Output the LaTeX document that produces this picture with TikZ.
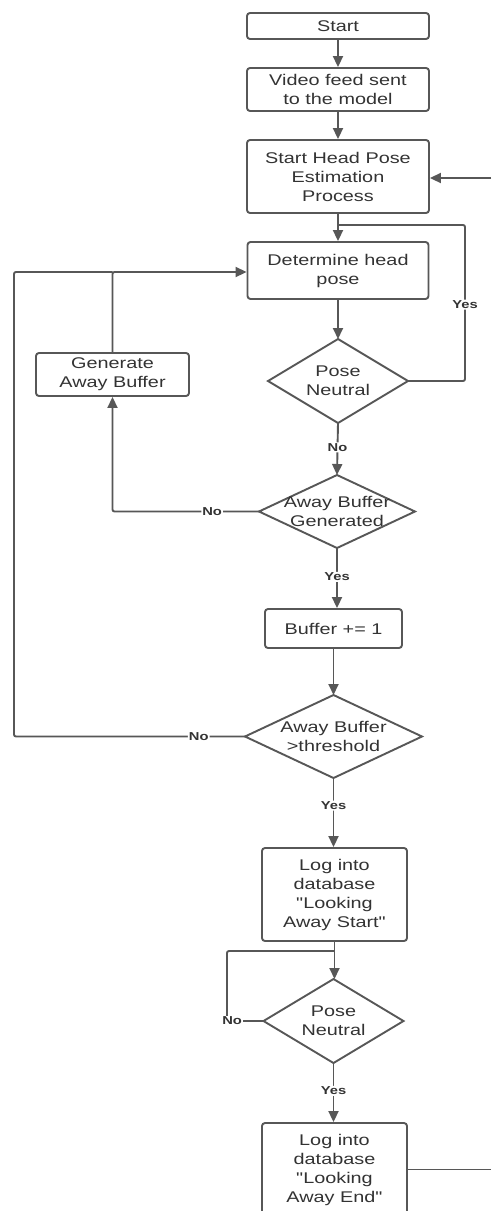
\documentclass[tikz,border=0pt]{standalone}
\usepackage{fontspec}
\setmainfont{Liberation Sans}[FakeStretch=1.28]
\newfontfamily\plainqf{Liberation Sans}[FakeStretch=1.28]
\usetikzlibrary{shapes.geometric,arrows.meta}
\definecolor{ln}{HTML}{575757}
\definecolor{tx}{HTML}{333333}
\newcommand{\qq}{{\plainqf"}}
\begin{document}
\begin{tikzpicture}[x=1pt,y=-1pt,
  every node/.style={text=tx},
  box/.style={draw=ln,line width=1.9pt,rounded corners=3pt,align=center,
    font=\fontsize{15.5}{19}\selectfont,inner sep=0pt},
  dia/.style={draw=ln,line width=1.9pt,diamond,inner sep=0pt,outer sep=0pt},
  dtext/.style={align=center,font=\fontsize{15.5}{19}\selectfont,inner sep=0pt},
  lbl/.style={fill=white,inner sep=1pt,font=\fontsize{11.5}{13}\selectfont\bfseries},
  conn/.style={draw=ln,line width=1.9pt,rounded corners=2pt},
  arr/.style={conn,-{Triangle[length=11pt,width=10pt]}}]
\useasboundingbox (0,0) rectangle (491,1211);
\clip (0,0) rectangle (491,1211);
\fill[white] (0,0) rectangle (491,1211);

\node[box,minimum width=182pt,minimum height=26pt] (start) at (338,26) {Start};
\node[box,minimum width=182pt,minimum height=43pt] (video) at (338,89.5) {Video feed sent\\to the model};
\node[box,minimum width=182pt,minimum height=73pt] (hpe) at (338,176.5) {Start Head Pose\\Estimation\\Process};
\node[box,minimum width=181pt,minimum height=57pt] (det) at (338,270.5) {Determine head\\pose};
\node[dia,minimum width=140pt,minimum height=84pt,label={[dtext]center:Pose\\Neutral}] (pn1) at (338,381) {};
\node[box,minimum width=153pt,minimum height=43pt] (gen) at (112.5,374.5) {Generate\\Away Buffer};
\node[dia,minimum width=156pt,minimum height=73pt,label={[dtext]center:Away Buffer\\Generated}] (abg) at (337,511.5) {};
\node[box,minimum width=137pt,minimum height=39pt] (buf) at (333.5,628.5) {Buffer += 1};
\node[dia,minimum width=177pt,minimum height=83pt,label={[dtext]center:Away Buffer\\>threshold}] (abt) at (333.5,736.5) {};
\node[box,minimum width=145pt,minimum height=93pt] (log1) at (334.5,894.5) {Log into\\database\\\qq Looking\\Away Start\qq};
\node[dia,minimum width=140pt,minimum height=84pt,label={[dtext]center:Pose\\Neutral}] (pn2) at (333.5,1021) {};
\node[box,minimum width=145pt,minimum height=93pt] (log2) at (334.5,1169.5) {Log into\\database\\\qq Looking\\Away End\qq};

\coordinate (inR) at (491,178);
\coordinate (outR) at (491,1169.5);
\coordinate (yesJ) at (338,225);
\coordinate (yesR) at (465,225);
\coordinate (leftX) at (14,272);
\coordinate (noJ) at (227,951);

\draw[arr] (start) -- (video);
\draw[arr] (video) -- (hpe);
\draw[arr] (inR) -- (hpe.east |- inR);
\draw[arr] (hpe.south) -- (det.north);
\draw[conn] (pn1.east) -- (yesR |- pn1.east) -- node[lbl,pos=0.49]{Yes} (yesR) -- (yesJ);
\draw[arr] (det) -- (pn1);
\draw[arr] (pn1.south) -- node[lbl,pos=0.47]{No} (abg.north);
\draw[arr] (abg.west) -- node[lbl,pos=0.32]{No} (gen.south |- abg.west) -- (gen.south);
\draw[arr] (gen.north) |- (det.west |- leftX);
\draw[conn] (abt.west) -- node[lbl,pos=0.2]{No} (leftX |- abt.west) -- (leftX) -- (gen.north |- leftX);
\draw[arr] (abg.south) -- node[lbl,pos=0.48]{Yes} (abg.south |- buf.north);
\draw[arr] (buf.south) -- (buf.south |- abt.north);
\draw[arr] (abt.south) -- node[lbl,pos=0.4]{Yes} (abt.south |- log1.north);
\draw[arr] (log1.south) -- (log1.south |- pn2.north);
\draw[conn] (pn2.west) -- node[lbl,pos=0.86]{No} (noJ |- pn2.west) -- (noJ) -- (log1.south |- noJ);
\draw[arr] (pn2.south) -- node[lbl,pos=0.47]{Yes} (pn2.south |- log2.north);
\draw[conn] (log2.east) -- (outR);
\end{tikzpicture}
\end{document}
